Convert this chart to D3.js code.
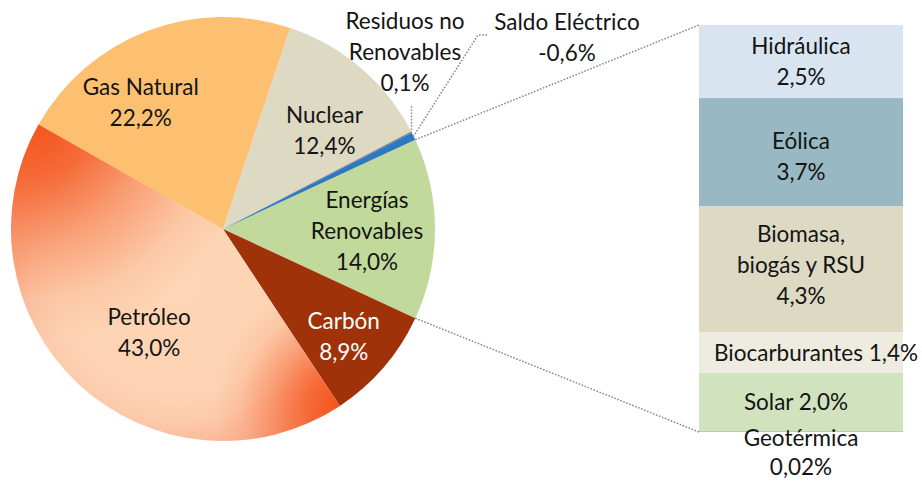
<!DOCTYPE html>
<html><head><meta charset="utf-8">
<script src="https://cdn.jsdelivr.net/npm/d3@7"></script>
<style>
html,body{margin:0;padding:0;background:#fff;}
svg{display:block;}
text{font-family:Lato,"Noto Sans",sans-serif;fill:#141414;}
</style></head>
<body><svg id="c" width="922" height="482"></svg>
<script>
// ---- data ----
const categories = ["Energías Renovables","Carbón","Petróleo","Gas Natural","Nuclear","Residuos no Renovables","Saldo Eléctrico"];
const values = [14.0, 8.9, 43.0, 22.2, 12.4, 0.1, -0.6];
const subCategories = ["Hidráulica","Eólica","Biomasa, biogás y RSU","Biocarburantes","Solar","Geotérmica"];
const subValues = [2.5, 3.7, 4.3, 1.4, 2.0, 0.02];

// ---- styling / layout ----
const colors = {"Energías Renovables":"#c2d99c","Carbón":"#a0320a","Petróleo":"url(#petro)","Gas Natural":"#fcc070","Nuclear":"#ddd9c3","Residuos no Renovables":"#7f7f7f","Saldo Eléctrico":"#2e78c0"};
const subColors = {"Hidráulica":"#d8e5f1","Eólica":"#98b8c3","Biomasa, biogás y RSU":"#ddd9c3","Biocarburantes":"#eeece1","Solar":"#d1e2be","Geotérmica":"#9bbb59"};
const pieLines = {"Energías Renovables":["Energías","Renovables"],"Residuos no Renovables":["Residuos no","Renovables"],"Saldo Eléctrico":["Saldo Eléctrico"]};
const pieLabelPolar = {"Gas Natural":[327,151],"Nuclear":[46,141],"Energías Renovables":[91,144],"Petróleo":[215.6,127],"Carbón":[131.8,162]};
const outsideLabel = {"Residuos no Renovables":{x:405,y:52.5,lx:411.5,ly:106},"Saldo Eléctrico":{x:567,y:38,lx:487,ly:35,kx:478}};
const subLines = {"Biomasa, biogás y RSU":["Biomasa,","biogás y RSU"]};
const subLabelShift = {"Eólica":[0,5],"Biomasa, biogás y RSU":[0,-4],"Biocarburantes":[15,1],"Solar":[-5,0]};
const fontSize = 22.5, lh = 31, capH = 15.5;

const fmt = v => (Math.abs(v) < 0.1 && v!==0 ? d3.format(".2f")(v) : d3.format(".1f")(v)).replace("−","-").replace(".", ",") + "%";

const svg = d3.select("#c");
const defs = svg.append("defs");
const g1 = defs.append("radialGradient").attr("id","petro").attr("cx",0.5).attr("cy",0.5).attr("r",0.707);
[[0,"#fdd6b6"],[0.5,"#fdd3b3"],[0.62,"#fccaab"],[0.75,"#fbb596"],[0.9,"#f99a75"],[1,"#f78058"]]
  .forEach(([o,c]) => g1.append("stop").attr("offset",o).attr("stop-color",c));

const cx = 223, cy = 229, R = 212;
const total = d3.sum(values, v => Math.abs(v));
const renovSpan = Math.abs(values[0]) / total * 2 * Math.PI;
const start = Math.PI/2 - renovSpan/2;
const pie = d3.pie().sort(null).value(d => Math.abs(d.v)).startAngle(start).endAngle(start + 2*Math.PI);
const arcs = pie(categories.map((c,i) => ({c, v: values[i]})));
const arc = d3.arc().innerRadius(0).outerRadius(R);
const pg = svg.append("g").attr("transform", `translate(${cx},${cy})`);
pg.selectAll("path.slice").data(arcs).join("path").attr("class","slice")
  .attr("d", arc).attr("fill", d => colors[d.data.c]);

// tip glows for the Petróleo gradient (centred on the slice's arc ends)
const pet = arcs.find(d => d.data.c === "Petróleo");
const rel = a => [R*Math.sin(a), -R*Math.cos(a)];
[[pet.startAngle, 125, "tipA"], [pet.endAngle, 215, "tipB"]].forEach(([a, rad, id]) => {
  const [tx, ty] = rel(a);
  const gr = defs.append("radialGradient").attr("id", id).attr("gradientUnits","userSpaceOnUse")
    .attr("cx", tx).attr("cy", ty).attr("r", rad);
  [[0,1],[0.25,0.78],[0.55,0.38],[0.8,0.1],[1,0]].forEach(([o,op]) =>
    gr.append("stop").attr("offset",o).attr("stop-color","#f4561e").attr("stop-opacity",op));
  pg.append("path").attr("d", arc(pet)).attr("fill", `url(#${id})`);
});

const polar = (aDeg, r) => { const a = aDeg*Math.PI/180; return [cx + r*Math.sin(a), cy - r*Math.cos(a)]; };
const pt = (a, r) => [cx + r*Math.sin(a), cy - r*Math.cos(a)];

function block(x, ycenter, lines, fill, step) {
  const n = lines.length, s = step || lh;
  lines.forEach((t,i) => {
    svg.append("text").attr("x", x).attr("y", ycenter + (i-(n-1)/2)*s + capH/2)
      .attr("text-anchor","middle").attr("font-size", fontSize)
      .style("fill", fill || "#141414").text(t);
  });
}

// pie labels
arcs.forEach(d => {
  const c = d.data.c;
  const lines = (pieLines[c] || [c]).concat([fmt(d.data.v)]);
  if (pieLabelPolar[c]) {
    const [x,y] = polar(pieLabelPolar[c][0], pieLabelPolar[c][1]);
    block(x, y, lines, c === "Carbón" ? "#ffffff" : null);
  } else if (outsideLabel[c]) {
    const o = outsideLabel[c];
    block(o.x, o.y, lines);
    const mid = (d.startAngle + d.endAngle)/2;
    const p = pt(mid, R);
    const pts = o.kx ? [[o.lx,o.ly],[o.kx,o.ly],p] : [[o.lx,o.ly],[o.lx,p[1]]];
    svg.append("path").attr("d", d3.line()(pts)).attr("fill","none")
      .attr("stroke","#888").attr("stroke-width",1.5).attr("stroke-dasharray","1.6,1.6");
  }
});

// bar of pie
const bx0 = 699, bx1 = 903;
const y = d3.scaleLinear().domain([0, d3.sum(subValues)]).range([25, 432]);
let acc = 0;
const segs = subCategories.map((c,i) => { const s = {c, v: subValues[i], y0: acc, y1: acc + subValues[i]}; acc += subValues[i]; return s; });
svg.append("g").selectAll("rect").data(segs).join("rect")
  .attr("x", bx0).attr("width", bx1-bx0)
  .attr("y", d => y(d.y0)).attr("height", d => y(d.y1)-y(d.y0))
  .attr("fill", d => subColors[d.c]);

segs.forEach(s => {
  const mid = (y(s.y0)+y(s.y1))/2, xc = (bx0+bx1)/2;
  const [sx, sy] = subLabelShift[s.c] || [0,0];
  if (s.c === "Biocarburantes" || s.c === "Solar") block(xc+sx, mid+sy, [s.c + " " + fmt(s.v)]);
  else if (s.c === "Geotérmica") block(xc, y(s.y1)+21, [s.c, fmt(s.v)], null, 29);
  else block(xc+sx, mid+sy, (subLines[s.c] || [s.c]).concat([fmt(s.v)]));
});

// connectors
const rn = arcs[0];
[[pt(rn.startAngle, R), [bx0, y(0)]], [pt(rn.endAngle, R), [bx0, y(d3.sum(subValues))]]].forEach(p => {
  svg.append("path").attr("d", d3.line()(p)).attr("fill","none")
    .attr("stroke","#888").attr("stroke-width",1.5).attr("stroke-dasharray","1.6,1.6");
});
</script></body></html>
